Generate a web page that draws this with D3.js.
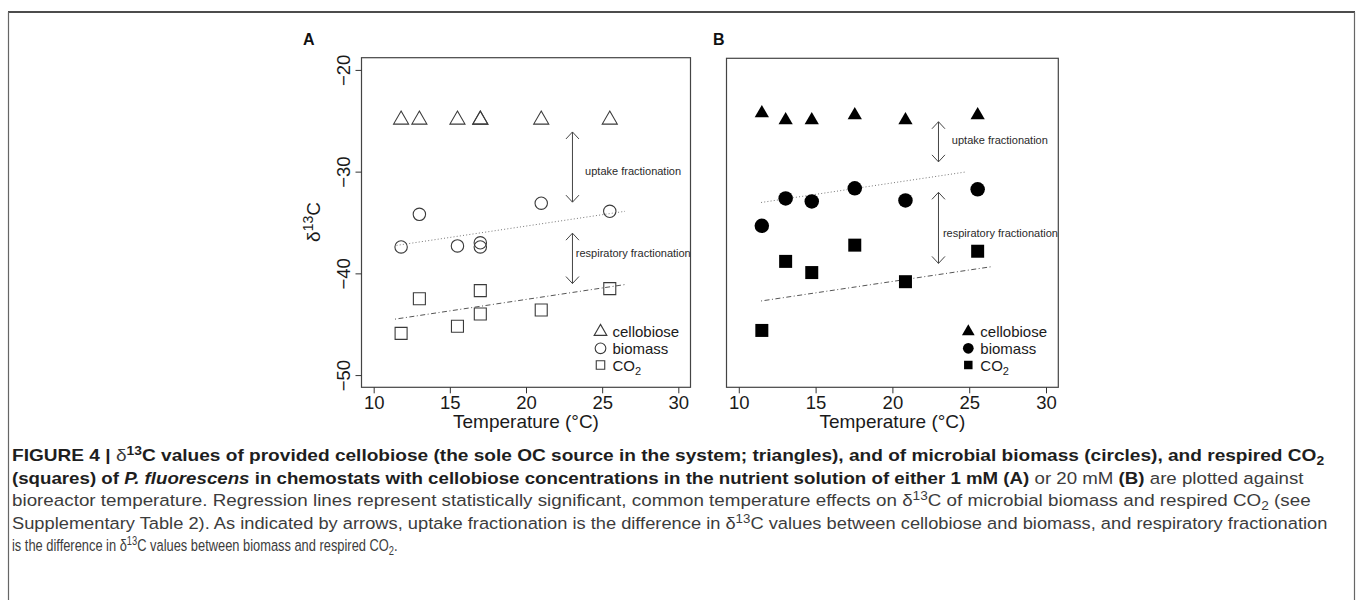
<!DOCTYPE html>
<html>
<head>
<meta charset="utf-8">
<script src="https://cdnjs.cloudflare.com/ajax/libs/d3/7.8.5/d3.min.js"></script>
<style>
  html, body { margin: 0; padding: 0; background: #fff; }
  svg { display: block; }
</style>
</head>
<body>
<svg id="fig" width="1358" height="600"></svg>
<script>
// ── Data ─────────────────────────────────────────────────────────────────────
var tempTicks = [10, 15, 20, 25, 30];
var d13cTicks = [-50, -40, -30, -20];

// Panel A: 1 mM cellobiose (open symbols)
var tempA       = [11.8, 13.0, 15.5, 17.0, 17.0, 21.0, 25.5];
var cellobioseA = [-24.9, -24.9, -24.9, -24.9, -24.9, -24.9, -24.9];
var biomassA    = [-37.4, -34.2, -37.3, -37.0, -37.4, -33.1, -33.9];
var co2A        = [-45.9, -42.5, -45.2, -41.7, -44.0, -43.6, -41.5];

// Panel B: 20 mM cellobiose (filled symbols)
var tempB       = [11.5, 13.05, 14.75, 17.55, 20.85, 25.55];
var cellobioseB = [-24.2, -24.9, -24.9, -24.4, -24.9, -24.4];
var biomassB    = [-35.3, -32.6, -32.9, -31.6, -32.8, -31.7];
var co2B        = [-45.6, -38.8, -39.9, -37.2, -40.8, -37.8];

// regression lines, end points
var fitBioTempA = [11.5, 26.5];
var fitBiomassA = [-37.25, -33.9];
var fitCo2TempA = [11.4, 26.5];
var fitCo2A     = [-44.5, -41.1];
var fitBioTempB = [11.45, 24.75];
var fitBiomassB = [-33.0, -30.0];
var fitCo2TempB = [11.45, 26.55];
var fitCo2B     = [-42.7, -39.3];

// double arrows [temperature, from, to] and their labels [temperature, d13C]
var uptakeArrowA = [23.05, -26.1, -33.0];
var respArrowA   = [23.05, -36.05, -41.0];
var uptakeArrowB = [23.0, -25.05, -29.0];
var respArrowB   = [23.0, -32.0, -39.0];
var uptakeLabelA = [23.88, -30.0];
var respLabelA   = [23.27, -38.0];
var uptakeLabelB = [23.87, -26.9];
var respLabelB   = [23.29, -36.0];

var legendLabels = ['cellobiose', 'biomass', 'CO'];

// caption, one array per line: [text, style]
var captionLine1 = [['FIGURE 4 | ', 'b'], ['\u03b4', 'n'], ['13', 'bsup'],
  ['C values of provided cellobiose (the sole OC source in the system; triangles), and of microbial biomass (circles), and respired CO', 'b'], ['2', 'bsub']];
var captionLine2 = [['(squares) of ', 'b'], ['P. fluorescens', 'bi'],
  [' in chemostats with cellobiose concentrations in the nutrient solution of either 1 mM (A)', 'b'],
  [' or 20 mM ', 'n'], ['(B)', 'b'], [' are plotted against', 'n']];
var captionLine3 = [['bioreactor temperature. Regression lines represent statistically significant, common temperature effects on \u03b4', 'n'],
  ['13', 'sup'], ['C of microbial biomass and respired CO', 'n'], ['2', 'sub'], [' (see', 'n']];
var captionLine4 = [['Supplementary Table 2). As indicated by arrows, uptake fractionation is the difference in \u03b4', 'n'],
  ['13', 'sup'], ['C values between cellobiose and biomass, and respiratory fractionation', 'n']];
var captionLine5 = [['is the difference in \u03b4', 'n'], ['13', 'sup'], ['C values between biomass and respired CO', 'n'], ['2', 'sub'], ['.', 'n']];

// ── Setup ────────────────────────────────────────────────────────────────────
var FONT = '"Liberation Sans", Arial, Helvetica, sans-serif';
var svg = d3.select('#fig');

// frame round the whole figure
svg.append('line').attr('x1', 8).attr('x2', 1355).attr('y1', 12).attr('y2', 12)
  .attr('stroke', '#111').attr('stroke-width', 1.6);
svg.append('line').attr('x1', 8.5).attr('x2', 8.5).attr('y1', 12).attr('y2', 600)
  .attr('stroke', '#666').attr('stroke-width', 1.2);
svg.append('line').attr('x1', 1354.5).attr('x2', 1354.5).attr('y1', 12).attr('y2', 600)
  .attr('stroke', '#666').attr('stroke-width', 1.2);

var panels = [
  { letter: 'A', letterX: 303, left: 361.5, right: 690.5, top: 57.7, bottom: 387.3, filled: false, yAxis: true,
    temp: tempA, cel: cellobioseA, bio: biomassA, co2: co2A,
    fitBioT: fitBioTempA, fitBio: fitBiomassA, fitCo2T: fitCo2TempA, fitCo2: fitCo2A,
    arrows: [uptakeArrowA, respArrowA], labels: [uptakeLabelA, respLabelA], triSize: 98 },
  { letter: 'B', letterX: 713, left: 726.5, right: 1058.3, top: 58.3, bottom: 387.3, filled: true, yAxis: false,
    temp: tempB, cel: cellobioseB, bio: biomassB, co2: co2B,
    fitBioT: fitBioTempB, fitBio: fitBiomassB, fitCo2T: fitCo2TempB, fitCo2: fitCo2B,
    arrows: [uptakeArrowB, respArrowB], labels: [uptakeLabelB, respLabelB], triSize: 88 }
];

panels.forEach(drawPanel);
drawCaption();

// ── Panel ────────────────────────────────────────────────────────────────────
function drawPanel(p) {
  var x = d3.scaleLinear().domain([9.2, 30.8]).range([p.left, p.right]);
  var y = d3.scaleLinear().domain([-51.2, -18.8]).range([p.bottom, p.top]);
  var g = svg.append('g');
  var ink = '#3a3a3a';

  // regression lines
  var line = d3.line().x(function(d) { return x(d[0]); }).y(function(d) { return y(d[1]); });
  g.append('path').attr('d', line(d3.zip(p.fitBioT, p.fitBio)))
    .attr('fill', 'none').attr('stroke', '#777').attr('stroke-width', 1).attr('stroke-dasharray', '1,2.2');
  g.append('path').attr('d', line(d3.zip(p.fitCo2T, p.fitCo2)))
    .attr('fill', 'none').attr('stroke', '#555').attr('stroke-width', 1).attr('stroke-dasharray', '1,2.5,5,2.5');

  // box
  g.append('rect').attr('x', p.left).attr('y', p.top)
    .attr('width', p.right - p.left).attr('height', p.bottom - p.top)
    .attr('fill', 'none').attr('stroke', '#444').attr('stroke-width', 1.2);

  // x axis
  var xa = g.append('g').attr('transform', 'translate(0,' + p.bottom + ')')
    .call(d3.axisBottom(x).tickValues(tempTicks).tickSize(6).tickSizeOuter(0).tickPadding(3));
  xa.select('.domain').remove();
  xa.selectAll('line').attr('stroke', '#333');
  xa.selectAll('text').attr('font-size', 18.5).attr('font-family', FONT).attr('fill', '#1a1a1a');

  // y axis, labels turned like R does
  if (p.yAxis) {
    var ya = g.append('g').attr('transform', 'translate(' + p.left + ',0)')
      .call(d3.axisLeft(y).tickValues(d13cTicks).tickSize(6).tickSizeOuter(0)
        .tickFormat(function(d) { return '\u2212' + Math.abs(d); }));
    ya.select('.domain').remove();
    ya.selectAll('line').attr('stroke', '#333');
    ya.selectAll('text').attr('font-size', 18.5).attr('font-family', FONT).attr('fill', '#1a1a1a')
      .attr('transform', 'rotate(-90)').attr('text-anchor', 'middle')
      .attr('x', 0).attr('y', -11.5).attr('dy', 0);

    var yt = svg.append('text').attr('transform', 'translate(320,222) rotate(-90)')
      .attr('text-anchor', 'middle').attr('font-family', FONT).attr('font-size', 19).attr('fill', '#1a1a1a');
    yt.append('tspan').text('\u03b4');
    yt.append('tspan').attr('font-size', 14).attr('dy', -7).text('13');
    yt.append('tspan').attr('dy', 7).text('C');
  }

  // x title
  svg.append('text').attr('x', x(20)).attr('y', 428).attr('text-anchor', 'middle')
    .attr('font-family', FONT).attr('font-size', 19).attr('fill', '#1a1a1a')
    .text('Temperature (\u00b0C)');

  // panel letter
  svg.append('text').attr('x', p.letterX).attr('y', 45)
    .attr('font-family', FONT).attr('font-size', 16).attr('font-weight', 'bold').attr('fill', '#111')
    .text(p.letter);

  // arrows
  p.arrows.forEach(function(a) {
    var ax = x(a[0]), y1 = y(a[1]), y2 = y(a[2]);
    g.append('line').attr('x1', ax).attr('x2', ax).attr('y1', y1).attr('y2', y2)
      .attr('stroke', '#444').attr('stroke-width', 1);
    g.append('path').attr('d', 'M' + (ax - 6.5) + ' ' + (y1 + 7) + ' L' + ax + ' ' + y1 + ' L' + (ax + 6.5) + ' ' + (y1 + 7))
      .attr('fill', 'none').attr('stroke', '#444').attr('stroke-width', 1);
    g.append('path').attr('d', 'M' + (ax - 6.5) + ' ' + (y2 - 7) + ' L' + ax + ' ' + y2 + ' L' + (ax + 6.5) + ' ' + (y2 - 7))
      .attr('fill', 'none').attr('stroke', '#444').attr('stroke-width', 1);
  });
  var labelText = ['uptake fractionation', 'respiratory fractionation'];
  p.labels.forEach(function(l, i) {
    g.append('text').attr('x', x(l[0])).attr('y', y(l[1])).attr('dy', '0.35em')
      .attr('font-family', FONT).attr('font-size', 11).attr('fill', '#2a2a2a')
      .text(labelText[i]);
  });

  // points
  var tri = d3.symbol().type(d3.symbolTriangle).size(p.triSize);
  var circ = d3.symbol().type(d3.symbolCircle).size(p.filled ? 165 : 121);
  var sq = d3.symbol().type(d3.symbolSquare).size(p.filled ? 169 : 144);

  function points(vals, gen) {
    g.append('g').selectAll('path').data(d3.zip(p.temp, vals)).enter().append('path')
      .attr('d', gen)
      .attr('transform', function(d) { return 'translate(' + x(d[0]) + ',' + y(d[1]) + ')'; })
      .attr('fill', p.filled ? '#000' : 'none')
      .attr('stroke', p.filled ? 'none' : ink)
      .attr('stroke-width', 1.1);
  }
  points(p.cel, tri);
  points(p.bio, circ);
  points(p.co2, sq);

  // legend
  var lx = p.right - 90;
  var rows = [p.bottom - 55.6, p.bottom - 39, p.bottom - 22.3];
  var legGen = [
    d3.symbol().type(d3.symbolTriangle).size(70),
    d3.symbol().type(d3.symbolCircle).size(90),
    d3.symbol().type(d3.symbolSquare).size(72)
  ];
  rows.forEach(function(ry, i) {
    g.append('path').attr('d', legGen[i]()).attr('transform', 'translate(' + lx + ',' + ry + ')')
      .attr('fill', p.filled ? '#000' : 'none')
      .attr('stroke', p.filled ? 'none' : ink).attr('stroke-width', 1.1);
    var t = g.append('text').attr('x', lx + 12).attr('y', ry + 5.5)
      .attr('font-family', FONT).attr('font-size', 15).attr('fill', '#1a1a1a');
    t.append('tspan').text(legendLabels[i]);
    if (i === 2) t.append('tspan').attr('font-size', 11).attr('dy', 4).text('2');
  });
}

// ── Caption ──────────────────────────────────────────────────────────────────
function drawCaption() {
  var lines = [captionLine1, captionLine2, captionLine3, captionLine4, captionLine5];
  var ends = [1325, 1304, 1311, 1328, 398];
  lines.forEach(function(segs, i) {
    var t = svg.append('text').attr('font-family', FONT).attr('font-size', 16.5);
    var shift = 0;
    segs.forEach(function(s) {
      var st = s[1];
      var sp = t.append('tspan').text(s[0]);
      var bold = st.charAt(0) === 'b';
      sp.attr('font-weight', bold ? 'bold' : 'normal').attr('fill', bold ? '#1e1e1e' : '#3c3c3c');
      if (st === 'bi') sp.attr('font-style', 'italic');
      var want = 0;
      if (st === 'sup' || st === 'bsup') { want = -6; sp.attr('font-size', 12); }
      if (st === 'sub' || st === 'bsub') { want = 4; sp.attr('font-size', 12); }
      if (want !== shift) { sp.attr('dy', want - shift); shift = want; }
    });
    var k = (ends[i] - 12) / t.node().getComputedTextLength();
    t.attr('transform', 'translate(12,' + (461 + 22.6 * i) + ') scale(' + k + ',1)');
  });
}
</script>
</body>
</html>
